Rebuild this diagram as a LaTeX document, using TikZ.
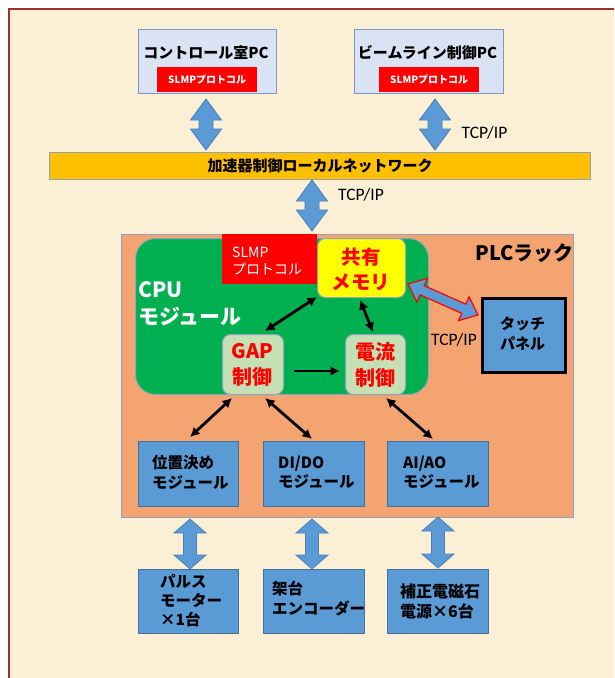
\documentclass[tikz,border=0pt]{standalone}
\usepackage{fontspec}
\setmainfont{Noto Sans CJK JP}
\newfontfamily\carlito{Carlito}
\usetikzlibrary{calc,arrows.meta}
\definecolor{cream}{HTML}{FBF0D6}
\definecolor{framered}{HTML}{A0302E}
\definecolor{pcfill}{HTML}{DAE3F3}
\definecolor{pcborder}{HTML}{7C99C6}
\definecolor{slmpred}{HTML}{FF0000}
\definecolor{netfill}{HTML}{FFC000}
\definecolor{grayborder}{HTML}{8FA5BF}
\definecolor{arrowblue}{HTML}{5B9BD5}
\definecolor{arrowborder}{HTML}{4A7EBB}
\definecolor{rackfill}{HTML}{F4A470}
\definecolor{cpugreen}{HTML}{00B050}
\definecolor{lightgreen}{HTML}{C5E0B4}
\definecolor{memyellow}{HTML}{FFFF00}
\definecolor{modblue}{HTML}{5B9BD5}
\definecolor{modborder}{HTML}{41719C}
\tikzset{
  framestyle/.style={fill=cream, draw=framered, line width=2.2pt},
  pcbox/.style={draw=pcborder, fill=pcfill, line width=1.2pt, inner sep=0},
  slmpbox/.style={fill=slmpred, draw=none, inner sep=0, text=white},
  netbox/.style={fill=netfill, draw=grayborder, line width=1pt, inner sep=0},
  rackbox/.style={fill=rackfill, draw=grayborder, line width=1pt, inner sep=0},
  cpubox/.style={fill=cpugreen, draw=grayborder, line width=1pt, rounded corners=20pt, inner sep=0},
  membox/.style={fill=memyellow, draw=grayborder, line width=1pt, rounded corners=8pt, inner sep=0},
  ctrlbox/.style={fill=lightgreen, draw=grayborder, line width=1pt, rounded corners=8pt, inner sep=0},
  touchbox/.style={fill=modblue, draw=black, line width=2.6pt, inner sep=0},
  modbox/.style={fill=modblue, draw=modborder, line width=1pt, inner sep=0},
  txt/.style={inner sep=0, text=black},
  tcp/.style={inner sep=0, text=black, font=\carlito\fontsize{17.5}{20}\selectfont},
  fatblue/.style={fill=arrowblue, draw=arrowborder, line width=0.8pt, line join=miter},
  fatred/.style={fill=arrowblue, draw=red, line width=1.2pt, line join=miter},
  blk/.style={draw=black, line width=2.8pt, line cap=butt},
  dbl/.style={blk, {Latex[length=9.5pt,width=10pt]}-{Latex[length=9.5pt,width=10pt]}},
  sgl/.style={blk, -{Latex[length=9.5pt,width=10pt]}}
}
% #1 style, #2 A, #3 B, #4 head length, #5 head half width, #6 shaft half width
\newcommand\fatarr[6][fatblue]{%
  \draw[#1] (#2) -- ($(#2)!#4!(#3)!#5!90:(#3)$) -- ($(#2)!#4!(#3)!#6!90:(#3)$)
    -- ($(#3)!#4!(#2)!#6!-90:(#2)$) -- ($(#3)!#4!(#2)!#5!-90:(#2)$) -- (#3)
    -- ($(#3)!#4!(#2)!#5!90:(#2)$) -- ($(#3)!#4!(#2)!#6!90:(#2)$)
    -- ($(#2)!#4!(#3)!#6!-90:(#3)$) -- ($(#2)!#4!(#3)!#5!-90:(#3)$) -- cycle;}
\begin{document}
\begin{tikzpicture}[x=1pt,y=-1pt]
\useasboundingbox (0,0) rectangle (614,678);
\clip (0,0) rectangle (614,678);
\fill[white] (0,0) rectangle (614,678);
\draw[framestyle] (9,9) rectangle (650,710);

% PCs
\node[pcbox, anchor=north west, minimum width=138, minimum height=64] (pc1) at (138,29) {};
\node[slmpbox, anchor=south west, minimum width=100, minimum height=25.5] (pc1s) at (157,92.4)
  {\fontsize{10}{12}\selectfont\bfseries SLMPプロトコル};
\node[txt, font=\fontsize{15}{18}\selectfont\bfseries] (pc1t) at (206,53) {コントロール室PC};

\node[pcbox, anchor=north west, minimum width=149, minimum height=64] (pc2) at (354,29) {};
\node[slmpbox, anchor=south west, minimum width=100, minimum height=25.5] (pc2s) at (379,92.4)
  {\fontsize{10}{12}\selectfont\bfseries SLMPプロトコル};
\node[txt, font=\fontsize{15}{18}\selectfont\bfseries] (pc2t) at (427.5,53) {ビームライン制御PC};

% network bar
\node[netbox, anchor=north west, minimum width=541, minimum height=27] (net) at (49,152)
  {\fontsize{15}{18}\selectfont\bfseries 加速器制御ローカルネットワーク};

% top fat arrows
\coordinate (a1t) at (206,99);  \coordinate (a1b) at (206,150);
\coordinate (a2t) at (435,99);  \coordinate (a2b) at (435,150);
\coordinate (a3t) at (312,180); \coordinate (a3b) at (312,231);
\fatarr{a1t}{a1b}{21pt}{15.5pt}{7pt}
\fatarr{a2t}{a2b}{21pt}{15.5pt}{7pt}
\fatarr{a3t}{a3b}{21pt}{15.5pt}{7pt}
\node[tcp] (tcp1) at (484.5,133) {TCP/IP};
\node[tcp] (tcp2) at (361,195) {TCP/IP};

% PLC rack
\node[rackbox, anchor=north west, minimum width=452, minimum height=283] (rack) at (121,234) {};
\node[txt, font=\fontsize{20}{24}\selectfont\bfseries] (racklbl) at (524.5,253) {PLCラック};

% CPU module
\node[cpubox, anchor=north west, minimum width=293, minimum height=156] (cpu) at (135,238) {};
\node[txt, text=white, anchor=west, align=left, font=\fontsize{21}{27}\selectfont\bfseries] (cpulbl) at (138,304) {CPU\\モジュール};
\node[slmpbox, anchor=north west, minimum width=95, minimum height=50] (slmp) at (222,234) {};
\node[txt, text=white, anchor=west, align=left, font=\fontsize{14}{17}\selectfont] (slmplbl) at (232,261) {SLMP\\プロトコル};
\node[membox, anchor=north west, minimum width=88, minimum height=59] (mem) at (317,238) {};
\node[txt, text=red, align=center, font=\fontsize{19.5}{25}\selectfont\bfseries] (memlbl) at (361,269) {共有\\メモリ};
\node[ctrlbox, anchor=north west, minimum width=61, minimum height=60] (gap) at (222,334) {};
\node[txt, text=red, align=center, font=\fontsize{20}{26}\selectfont\bfseries] (gaplbl) at (252.5,365) {GAP\\制御};
\node[ctrlbox, anchor=north west, minimum width=60, minimum height=60] (cur) at (345,334) {};
\node[txt, text=red, align=center, font=\fontsize{20}{26}\selectfont\bfseries] (curlbl) at (375,365) {電流\\制御};

% touch panel
\node[touchbox, anchor=north west, minimum width=83, minimum height=74] (touch) at (481,297) {};
\node[txt, align=center, font=\fontsize{15}{20}\selectfont\bfseries] (touchlbl) at (522.5,334) {タッチ\\パネル};
\node[tcp] (tcp3) at (454,340) {TCP/IP};
\coordinate (mt1) at (408,284); \coordinate (mt2) at (478,315);
\fatarr[fatred]{mt1}{mt2}{15.5pt}{13pt}{5pt}

% modules
\node[modbox, anchor=north west, minimum width=100, minimum height=65] (pos) at (138,441) {};
\node[modbox, anchor=north west, minimum width=101, minimum height=65] (dido) at (263,441) {};
\node[modbox, anchor=north west, minimum width=101, minimum height=65] (aiao) at (387,441) {};
\node[txt, anchor=west, align=left, font=\fontsize{15.5}{19.5}\selectfont\bfseries] (poslbl) at (152,472.5) {位置決め\\モジュール};
\node[txt, anchor=west, align=left, font=\fontsize{15.5}{19.5}\selectfont\bfseries] (didolbl) at (278,472) {DI/DO\\モジュール};
\node[txt, anchor=west, align=left, font=\fontsize{15.5}{19.5}\selectfont\bfseries] (aiaolbl) at (403,472) {AI/AO\\モジュール};

% black arrows
\coordinate (k1) at (317,297); \coordinate (k2) at (265,331);
\coordinate (k3) at (360,300); \coordinate (k4) at (373,332);
\coordinate (k5) at (294,371); \coordinate (k6) at (340,371);
\coordinate (k7) at (190,437); \coordinate (k8) at (232,398);
\coordinate (k9) at (312,439); \coordinate (k10) at (265,398);
\coordinate (k11) at (433,439); \coordinate (k12) at (386,398);
\draw[dbl] (k1) -- (k2);
\draw[dbl] (k3) -- (k4);
\draw[sgl] (k5) -- (k6);
\draw[dbl] (k7) -- (k8);
\draw[dbl] (k9) -- (k10);
\draw[dbl] (k11) -- (k12);

% bottom fat arrows
\coordinate (b1t) at (190,519); \coordinate (b1b) at (190,569);
\coordinate (b2t) at (312,519); \coordinate (b2b) at (312,569);
\coordinate (b3t) at (438,517); \coordinate (b3b) at (438,568);
\fatarr{b1t}{b1b}{14pt}{16pt}{6.5pt}
\fatarr{b2t}{b2b}{14pt}{16pt}{6.5pt}
\fatarr{b3t}{b3b}{14pt}{16pt}{6.5pt}

% field devices
\node[modbox, anchor=north west, minimum width=100, minimum height=64] (motor) at (138,569) {};
\node[modbox, anchor=north west, minimum width=101, minimum height=64] (enc) at (263,569) {};
\node[modbox, anchor=north west, minimum width=101, minimum height=64] (psu) at (387,569) {};
\node[txt, anchor=west, align=left, font=\fontsize{15.5}{19}\selectfont\bfseries] (motorlbl) at (160,601) {パルス\\モーター\\×1台};
\node[txt, anchor=west, align=left, font=\fontsize{15.5}{20}\selectfont\bfseries] (enclbl) at (272,599) {架台\\エンコーダー};
\node[txt, anchor=west, align=left, font=\fontsize{16}{20}\selectfont\bfseries] (psulbl) at (400,601) {補正電磁石\\電源×6台};
\end{tikzpicture}
\end{document}
